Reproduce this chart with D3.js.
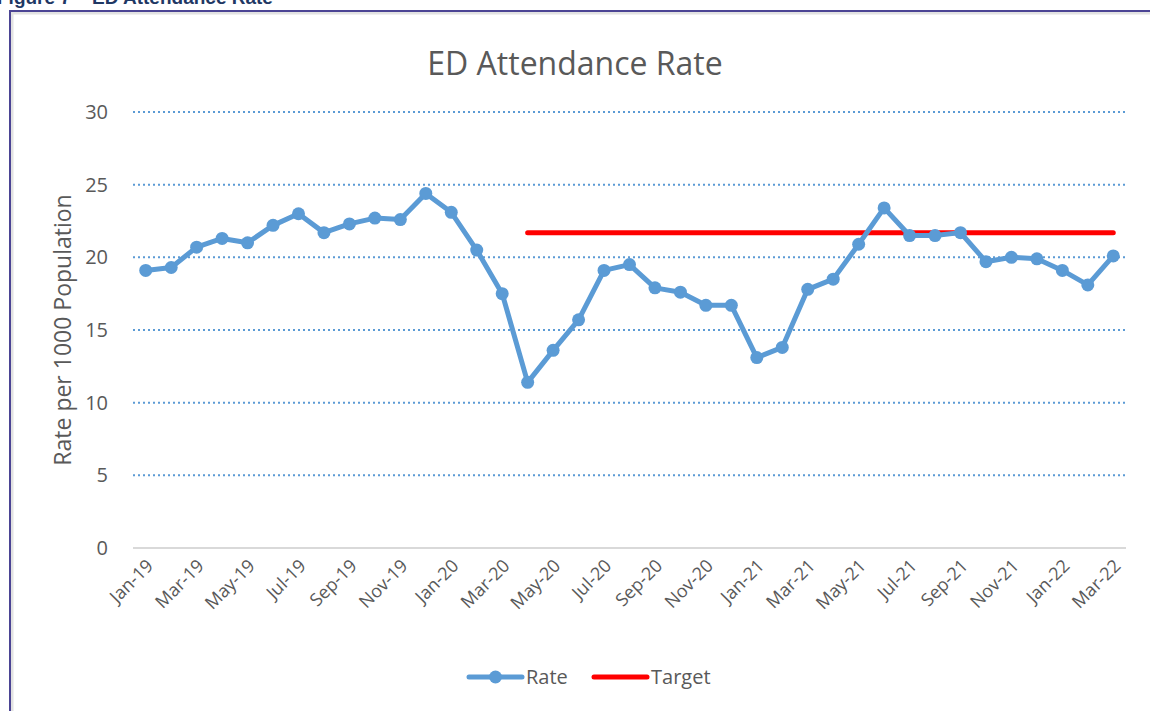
<!DOCTYPE html>
<html>
<head>
<meta charset="utf-8">
<script src="https://cdn.jsdelivr.net/npm/d3@7"></script>
<style>
  body { margin: 0; background: #fff; }
  text { font-family: "Open Sans", "Noto Sans", sans-serif; fill: #595959; }
</style>
</head>
<body>
<div id="chart"></div>
<script>
// months shown on the category axis
var months = [
  "Jan-19","Feb-19","Mar-19","Apr-19","May-19","Jun-19","Jul-19","Aug-19","Sep-19","Oct-19","Nov-19","Dec-19",
  "Jan-20","Feb-20","Mar-20","Apr-20","May-20","Jun-20","Jul-20","Aug-20","Sep-20","Oct-20","Nov-20","Dec-20",
  "Jan-21","Feb-21","Mar-21","Apr-21","May-21","Jun-21","Jul-21","Aug-21","Sep-21","Oct-21","Nov-21","Dec-21",
  "Jan-22","Feb-22","Mar-22"
];

// rate per 1000 population
var rate = [
  19.1, 19.3, 20.7, 21.3, 21.0, 22.2, 23.0, 21.7, 22.3, 22.7, 22.6, 24.4,
  23.1, 20.5, 17.5, 11.4, 13.6, 15.7, 19.1, 19.5, 17.9, 17.6, 16.7, 16.7,
  13.1, 13.8, 17.8, 18.5, 20.9, 23.4, 21.5, 21.5, 21.7, 19.7, 20.0, 19.9,
  19.1, 18.1, 20.1
];

// target starts at Apr-20
var targetStart = "Apr-20";
var targetValue = 21.7;

var yTicks = [0, 5, 10, 15, 20, 25, 30];

var width = 1150
 ,  height = 711
 ,  margin = {top: 112, right: 24, bottom: 163, left: 133};

var svg = d3.select("#chart")
  .append("svg")
    .attr("width", width)
    .attr("height", height);

// frame with soft shadow
svg.append("rect")
  .attr("x", 12).attr("y", 13)
  .attr("width", width + 20).attr("height", height + 20)
  .attr("fill", "none")
  .attr("stroke", "#e2e2e2")
  .attr("stroke-width", 3);
svg.append("rect")
  .attr("x", 10).attr("y", 11)
  .attr("width", width + 20).attr("height", height + 20)
  .attr("fill", "none")
  .attr("stroke", "#4b4494")
  .attr("stroke-width", 2);

// caption, cut at the top edge as in the source page
svg.append("text")
  .attr("x", -3)
  .attr("y", 4)
  .style("font-family", "Liberation Sans, sans-serif")
  .style("font-weight", "bold")
  .style("font-size", "19px")
  .style("fill", "#1f3864")
  .text("Figure 7 \u2013 ED Attendance Rate");

var plotW = width - margin.left - margin.right
 ,  plotH = height - margin.top - margin.bottom;

var g = svg.append("g")
  .attr("transform", "translate(" + margin.left + "," + margin.top + ")");

var x = d3.scalePoint()
  .domain(months)
  .range([0, plotW])
  .padding(0.5);

var y = d3.scaleLinear()
  .domain([0, 30])
  .range([plotH, 0]);

// gridlines
g.selectAll(".grid").data(yTicks.filter(function(d) { return d > 0; }))
  .enter().append("line")
    .attr("class", "grid")
    .attr("x1", 0).attr("x2", plotW)
    .attr("y1", function(d) { return y(d); })
    .attr("y2", function(d) { return y(d); })
    .attr("stroke", "#5b9bd5")
    .attr("stroke-width", 2)
    .attr("stroke-dasharray", "2,3");

// baseline
g.append("line")
  .attr("x1", 0).attr("x2", plotW)
  .attr("y1", y(0)).attr("y2", y(0))
  .attr("stroke", "#d9d9d9")
  .attr("stroke-width", 2);

// y axis labels
var yAxis = g.append("g")
  .call(d3.axisLeft(y).tickValues(yTicks).tickSize(0).tickPadding(25));
yAxis.select(".domain").remove();
yAxis.selectAll("text")
  .style("font-size", "20px")
  .style("fill", "#595959")
  .style("font-family", "Open Sans, sans-serif");

// x axis labels, every other month
var xAxis = g.append("g")
  .attr("transform", "translate(0," + plotH + ")")
  .call(d3.axisBottom(x).tickValues(months.filter(function(d, i) { return i % 2 === 0; })).tickSize(0));
xAxis.select(".domain").remove();
xAxis.selectAll("text")
  .style("font-size", "18px")
  .style("fill", "#595959")
  .style("font-family", "Open Sans, sans-serif")
  .style("text-anchor", "end")
  .attr("x", 0)
  .attr("y", 0)
  .attr("dy", 0)
  .attr("transform", "translate(8,19) rotate(-45)");

// target line
var targetMonths = months.slice(months.indexOf(targetStart));
g.append("path")
  .datum(targetMonths)
  .attr("fill", "none")
  .attr("stroke", "#ff0000")
  .attr("stroke-width", 5)
  .attr("stroke-linecap", "round")
  .attr("d", d3.line()
    .x(function(d) { return x(d); })
    .y(function() { return y(targetValue); }));

// rate line
var rateLine = d3.line()
  .x(function(d, i) { return x(months[i]); })
  .y(function(d) { return y(d); });

g.append("path")
  .datum(rate)
  .attr("fill", "none")
  .attr("stroke", "#5b9bd5")
  .attr("stroke-width", 5)
  .attr("stroke-linejoin", "round")
  .attr("d", rateLine);

g.selectAll(".dot").data(rate)
  .enter().append("circle")
    .attr("class", "dot")
    .attr("cx", function(d, i) { return x(months[i]); })
    .attr("cy", function(d) { return y(d); })
    .attr("r", 6.5)
    .attr("fill", "#5b9bd5");

// y axis title
svg.append("text")
  .attr("transform", "translate(71," + (margin.top + plotH / 2) + ") rotate(-90)")
  .attr("text-anchor", "middle")
  .style("font-size", "23px")
  .text("Rate per 1000 Population");

// chart title
svg.append("text")
  .attr("x", 575)
  .attr("y", 75)
  .attr("text-anchor", "middle")
  .style("font-size", "32px")
  .text("ED Attendance Rate");

// legend
var legend = svg.append("g").attr("transform", "translate(0,677)");
legend.append("line")
  .attr("x1", 469).attr("x2", 522)
  .attr("stroke", "#5b9bd5").attr("stroke-width", 5).attr("stroke-linecap", "round");
legend.append("circle")
  .attr("cx", 495.5).attr("r", 6.5).attr("fill", "#5b9bd5");
legend.append("text")
  .attr("x", 526).attr("y", 7)
  .style("font-size", "20px")
  .text("Rate");
legend.append("line")
  .attr("x1", 594).attr("x2", 647)
  .attr("stroke", "#ff0000").attr("stroke-width", 5).attr("stroke-linecap", "round");
legend.append("text")
  .attr("x", 651).attr("y", 7)
  .style("font-size", "20px")
  .text("Target");
</script>
</body>
</html>
